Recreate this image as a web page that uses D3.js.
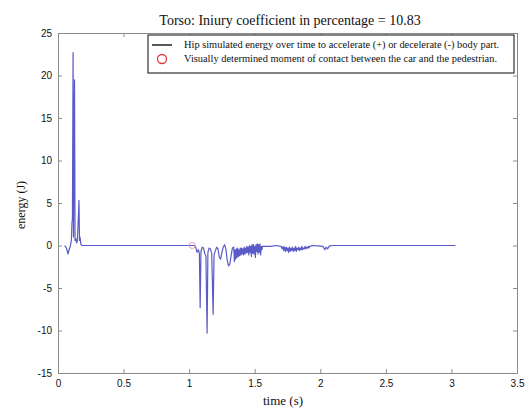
<!DOCTYPE html>
<html>
<head>
<meta charset="utf-8">
<script src="https://cdn.jsdelivr.net/npm/d3@7"></script>
<style>
  body { margin: 0; background: #fff; }
  svg text { fill: #111; }
</style>
</head>
<body>
<div id="chart"></div>
<script>
// chart data
const chartTitle = "Torso: Iniury coefficient in percentage = 10.83";
const xTicks = [0, 0.5, 1, 1.5, 2, 2.5, 3, 3.5];
const yTicks = [-15, -10, -5, 0, 5, 10, 15, 20, 25];
const legendLabels = [
  "Hip simulated energy over time to accelerate (+) or decelerate (-) body part.",
  "Visually determined moment of contact between the car and the pedestrian."
];

// hip energy (J) against time (s)
const time = [
  0.05, 0.065, 0.076, 0.085, 0.095, 0.102, 0.107, 0.110, 0.115, 0.118, 0.126, 0.130,
  0.136, 0.142, 0.148, 0.160, 0.164, 0.168, 0.175, 0.185,
  1.00, 1.040, 1.050, 1.060, 1.070, 1.078, 1.084, 1.090, 1.100, 1.110, 1.120, 1.128,
  1.137, 1.143, 1.152, 1.162, 1.172, 1.183, 1.190, 1.200, 1.210, 1.220, 1.230, 1.240,
  1.250, 1.260, 1.270, 1.280, 1.290, 1.300, 1.310, 1.320, 1.330, 1.340, 1.345,
  1.350, 1.355, 1.360, 1.365, 1.370, 1.375, 1.380, 1.385, 1.390, 1.395, 1.400,
  1.405, 1.410, 1.415, 1.420, 1.425, 1.430, 1.435, 1.440, 1.445, 1.450, 1.455,
  1.460, 1.465, 1.470, 1.475, 1.480, 1.485, 1.490, 1.495, 1.500, 1.505, 1.510,
  1.515, 1.520, 1.525, 1.530, 1.535, 1.540, 1.545, 1.550, 1.555, 1.560, 1.580,
  1.620, 1.660, 1.700,
  1.710, 1.716, 1.722, 1.728, 1.734, 1.740, 1.746, 1.752, 1.758, 1.764, 1.770,
  1.776, 1.782, 1.788, 1.794, 1.800, 1.806, 1.812, 1.818, 1.824, 1.830, 1.836,
  1.842, 1.848, 1.854, 1.860, 1.866, 1.872, 1.878, 1.884, 1.890, 1.896, 1.902,
  1.908, 1.914, 1.920, 1.940, 1.980, 2.020, 2.035, 2.045, 2.055, 2.070, 2.100, 3.030
];
const energy = [
  0, -0.3, -1.0, -0.5, 0, 0.6, 2.8, 3.0, 22.7, 1.0, 19.5, 0.6,
  0.8, 0.3, 0.6, 5.3, 0.6, 1.0, 0.1, 0,
  0, 0, -0.2, -0.8, -0.5, -0.9, -7.3, -0.7, -0.2, -0.3, -1.0, -1.2,
  -10.3, -0.8, -0.3, -0.4, -0.9, -8.1, -1.1, -0.6, -0.2, -0.4, -1.4, -1.6,
  -0.8, -0.2, 0.1, -0.4, -1.7, -2.4, -2.2, -1.2, -0.3, -0.2, -1.9,
  -0.5, -1.6, -0.4, -1.4, -0.3, -1.3, -0.5, -1.2, -0.3, -1.1, -0.3,
  -1.0, -0.4, -1.1, -0.2, -1.0, -0.3, -0.9, -0.1, -0.8, -0.2, -1.1,
  0.0, -0.8, -0.1, -1.3, 0.1, -0.9, 0.1, -1.0, -0.1, -1.4, 0.1,
  -0.7, 0.2, -1.0, 0.1, -0.8, 0.2, -1.1, -0.1, -0.5, -0.1, -0.1,
  -0.1, 0, -0.1,
  -0.4, -0.1, -0.6, -0.2, -0.7, -0.2, -0.6, -0.3, -0.8, -0.2, -0.7,
  -0.3, -0.6, -0.2, -0.7, -0.3, -0.6, -0.1, -0.7, -0.3, -0.5, -0.2,
  -0.6, -0.3, -0.5, -0.1, -0.5, -0.3, -0.4, -0.1, -0.4, -0.2, -0.3,
  -0.1, -0.3, -0.1, 0, -0.05, -0.1, -0.5, -0.2, -0.4, -0.05, 0, 0
];

// contact moment marker
const contactTime = [1.023];
const contactEnergy = [0];

const W = 527, H = 412;
const margin = { top: 33, right: 10, bottom: 39, left: 58 };
const iw = 517 - margin.left, ih = 373 - margin.top;

const svg = d3.select("#chart").append("svg")
  .attr("width", W).attr("height", H);

const g = svg.append("g").attr("transform", `translate(${margin.left},${margin.top})`);

const x = d3.scaleLinear().domain([0, 3.5]).range([0, iw]);
const y = d3.scaleLinear().domain([-15, 25]).range([ih, 0]);

const axisColor = "#8a8a8a";
const tickText = "#555";

// box axes like matlab, ticks pointing in
function styleAxis(sel) {
  sel.select(".domain").attr("stroke", axisColor);
  sel.selectAll(".tick line").attr("stroke", axisColor);
  sel.selectAll(".tick text")
    .attr("fill", tickText)
    .style("font-family", "Liberation Sans, Arial, sans-serif")
    .style("font-size", "10px");
}

const plain = d => String(d);

g.append("g").attr("transform", `translate(0,${ih})`)
  .call(d3.axisBottom(x).tickValues(xTicks).tickFormat(plain).tickSize(-4).tickPadding(7).tickSizeOuter(0))
  .call(styleAxis);
g.append("g")
  .call(d3.axisTop(x).tickValues(xTicks).tickSize(-4).tickFormat("").tickSizeOuter(0))
  .call(styleAxis);
g.append("g")
  .call(d3.axisLeft(y).tickValues(yTicks).tickFormat(plain).tickSize(-4).tickPadding(6).tickSizeOuter(0))
  .call(styleAxis);
g.append("g").attr("transform", `translate(${iw},0)`)
  .call(d3.axisRight(y).tickValues(yTicks).tickSize(-4).tickFormat("").tickSizeOuter(0))
  .call(styleAxis);

// the energy trace
const pts = time.map((t, i) => [t, energy[i]]);
const line = d3.line().x(d => x(d[0])).y(d => y(d[1]));
g.append("path")
  .datum(pts)
  .attr("fill", "none")
  .attr("stroke", "#5a5ac8")
  .attr("stroke-width", 1.2)
  .attr("stroke-linejoin", "round")
  .attr("d", line);

g.selectAll("circle.contact")
  .data(contactTime)
  .enter().append("circle")
  .attr("class", "contact")
  .attr("cx", d => x(d))
  .attr("cy", (d, i) => y(contactEnergy[i]))
  .attr("r", 3)
  .attr("fill", "none")
  .attr("stroke", "#e89ab0")
  .attr("stroke-width", 1);

// title and axis labels
svg.append("text")
  .attr("x", 290).attr("y", 25)
  .attr("text-anchor", "middle")
  .style("font-family", "Liberation Serif, Times New Roman, serif")
  .style("font-size", "14px")
  .text(chartTitle);

svg.append("text")
  .attr("x", 283).attr("y", 405)
  .attr("text-anchor", "middle")
  .style("font-family", "Liberation Serif, Times New Roman, serif")
  .style("font-size", "13px")
  .text("time (s)");

svg.append("text")
  .attr("transform", "translate(25,205) rotate(-90)")
  .attr("text-anchor", "middle")
  .style("font-family", "Liberation Serif, Times New Roman, serif")
  .style("font-size", "12px")
  .text("energy (J)");

// legend
const leg = svg.append("g").attr("transform", "translate(148,35)");
leg.append("rect")
  .attr("width", 366).attr("height", 38)
  .attr("fill", "#fff")
  .attr("stroke", "#333")
  .attr("stroke-width", 1.2);
leg.append("line")
  .attr("x1", 4).attr("x2", 24).attr("y1", 10).attr("y2", 10)
  .attr("stroke", "#222").attr("stroke-width", 1.5);
leg.append("circle")
  .attr("cx", 14).attr("cy", 24).attr("r", 4.5)
  .attr("fill", "none").attr("stroke", "#e03a3a").attr("stroke-width", 1.3);
leg.selectAll("text.lab")
  .data(legendLabels)
  .enter().append("text")
  .attr("class", "lab")
  .attr("x", 36)
  .attr("y", (d, i) => 13 + i * 14)
  .style("font-family", "Liberation Serif, Times New Roman, serif")
  .style("font-size", "10.4px")
  .text(d => d);
</script>
</body>
</html>
